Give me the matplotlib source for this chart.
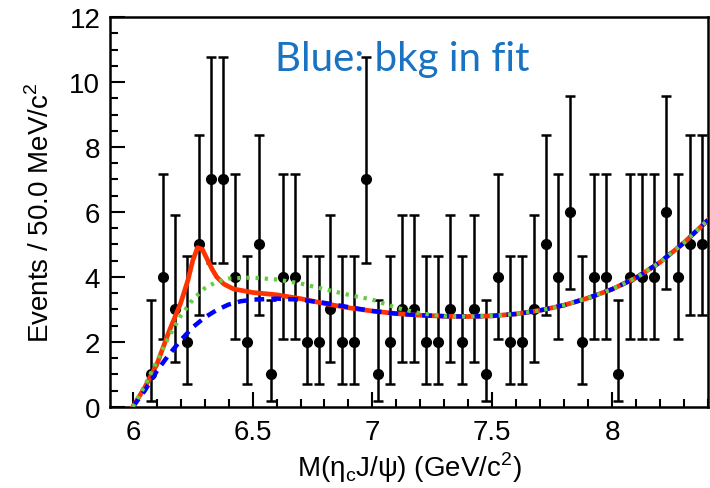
import matplotlib
matplotlib.use("Agg")
import matplotlib.pyplot as plt
from matplotlib.ticker import MultipleLocator

# data: counts per 50 MeV bin, bin centres 6.075 ... 8.375
bin_centres = [6.075 + 0.05 * i for i in range(47)]
counts = [1, 4, 3, 2, 5, 7, 7, 4, 2, 5, 1, 4, 4, 2, 2, 3, 2, 2, 7, 1, 2, 3,
          3, 2, 2, 3, 2, 3, 1, 4, 2, 2, 3, 5, 4, 6, 2, 4, 4, 1, 4, 4, 4, 6,
          4, 5, 5]

# poisson 68% interval edges for each count value (as drawn)
poisson_low = [0.0, 0.173, 0.708, 1.367, 2.086, 2.840, 3.620, 4.419]
poisson_high = [1.841, 3.300, 4.638, 5.918, 7.163, 8.382, 9.584, 10.77]

# fit curves
total_x = [6.0, 6.05, 6.1, 6.15, 6.2, 6.23, 6.25, 6.27, 6.29, 6.31, 6.33, 6.35,
           6.38, 6.42, 6.5, 6.6, 6.7, 6.8, 6.9, 7.0, 7.1, 7.2, 7.3, 7.4, 7.5,
           7.6, 7.7, 7.8, 7.9, 8.0, 8.1, 8.2, 8.3, 8.4]
total_y = [0.0, 0.6, 1.3, 2.3, 3.2, 3.9, 4.5, 4.9, 4.85, 4.55, 4.25, 4.0,
           3.78, 3.63, 3.52, 3.45, 3.33, 3.18, 3.05, 2.95, 2.87, 2.82, 2.79,
           2.78, 2.8, 2.86, 2.97, 3.13, 3.35, 3.62, 3.97, 4.45, 5.05, 5.75]

bkg_x = [6.0, 6.05, 6.1, 6.15, 6.2, 6.25, 6.3, 6.35, 6.4, 6.45, 6.5, 6.6, 6.7,
         6.8, 6.9, 7.0, 7.1, 7.2, 7.3, 7.4, 7.5, 7.6, 7.7, 7.8, 7.9, 8.0, 8.1,
         8.2, 8.3, 8.4]
bkg_y = [0.0, 0.5, 1.1, 1.6, 2.05, 2.45, 2.75, 2.98, 3.15, 3.25, 3.3, 3.33,
         3.3, 3.2, 3.07, 2.95, 2.87, 2.82, 2.79, 2.78, 2.8, 2.86, 2.97, 3.13,
         3.35, 3.62, 3.97, 4.45, 5.05, 5.75]

alt_x = [6.0, 6.05, 6.1, 6.15, 6.2, 6.25, 6.3, 6.35, 6.4, 6.5, 6.6, 6.7, 6.8,
         6.9, 7.0, 7.1, 7.2, 7.3, 7.4, 7.5, 7.6, 7.7, 7.8, 7.9, 8.0, 8.1, 8.2,
         8.3, 8.4]
alt_y = [0.0, 0.65, 1.4, 2.15, 2.8, 3.3, 3.65, 3.85, 3.95, 3.98, 3.92, 3.8,
         3.62, 3.45, 3.3, 3.05, 2.88, 2.79, 2.78, 2.8, 2.86, 2.97, 3.13, 3.35,
         3.62, 3.97, 4.45, 5.05, 5.75]

plt.rcParams['font.family'] = ['Liberation Sans', 'DejaVu Sans']

fig = plt.figure(figsize=(7.10, 4.89), dpi=100)
ax = fig.add_axes([0.155, 0.166, 0.842, 0.797])

err_lo = [c - poisson_low[c] for c in counts]
err_hi = [poisson_high[c] - c for c in counts]
ax.errorbar(bin_centres, counts, yerr=[err_lo, err_hi], fmt='o', color='black',
            markersize=7, elinewidth=1.8, capsize=3.5, capthick=1.8, zorder=2)

ax.plot(total_x, total_y, color='#ff3300', lw=3.4, zorder=3)
ax.plot(bkg_x, bkg_y, color='#0000ff', lw=3.2, ls=(0, (2.2, 1.6)), zorder=4)
ax.plot(alt_x, alt_y, color='#66cc44', lw=3.0, ls=(0, (0.8, 1.4)), zorder=5)

ax.set_xlim(5.905, 8.4)
ax.set_ylim(0, 12)
ax.xaxis.set_major_locator(MultipleLocator(0.5))
ax.xaxis.set_minor_locator(MultipleLocator(0.1))
ax.yaxis.set_major_locator(MultipleLocator(2))
ax.yaxis.set_minor_locator(MultipleLocator(0.5))
ax.tick_params(which='both', direction='in', top=False, right=False,
               labelsize=20, width=1.5)
ax.tick_params(which='major', length=11)
ax.tick_params(which='minor', length=6)
ax.tick_params(axis='x', which='major', pad=9)
ax.tick_params(axis='y', which='major', pad=7)
ax.set_xticks([6, 6.5, 7, 7.5, 8])
ax.set_xticklabels(['6', '6.5', '7', '7.5', '8'])
for side in ax.spines.values():
    side.set_linewidth(1.8)

ax.set_xlabel(r'M($\mathregular{\eta_c}$J/$\mathregular{\psi}$) (GeV/c$^\mathregular{2}$)',
              fontsize=20, labelpad=3)
ax.set_ylabel(r'Events / 50.0 MeV/c$^\mathregular{2}$', fontsize=20, labelpad=10)

ax.text(0.276, 0.893, 'Blue: bkg in fit', transform=ax.transAxes,
        color='#1a73c2', fontsize=29, family=['Lato', 'DejaVu Sans'],
        ha='left', va='center', zorder=6)

fig.savefig('out.png', dpi=100)
